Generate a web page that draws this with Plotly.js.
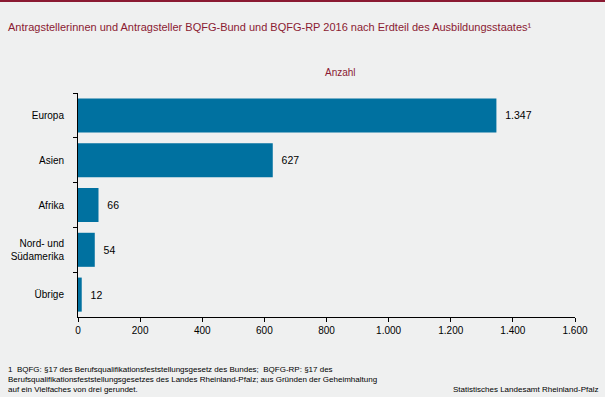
<!DOCTYPE html>
<html>
<head>
<meta charset="utf-8">
<script src="https://cdn.plot.ly/plotly-3.0.1.min.js"></script>
<style>
html,body{margin:0;padding:0;background:#eff0f0;}
#chart{width:605px;height:397px;}
</style>
</head>
<body>
<div id="chart"></div>
<script>
const categories = ["Europa", "Asien", "Afrika", "Nord- und<br>Südamerika", "Übrige"];
const values = [1347, 627, 66, 54, 12];
const xTicks = [0, 200, 400, 600, 800, 1000, 1200, 1400, 1600];

const titleText = "Antragstellerinnen und Antragsteller BQFG-Bund und BQFG-RP 2016 nach Erdteil des Ausbildungsstaates¹";
const unitText = "Anzahl";
const footLines = [
  "1  BQFG: §17 des Berufsqualifikationsfeststellungsgesetz des Bundes;  BQFG-RP: §17 des",
  "Berufsqualifikationsfeststellungsgesetzes des Landes Rheinland-Pfalz; aus Gründen der Geheimhaltung",
  "auf ein Vielfaches von drei gerundet."
];
const sourceText = "Statistisches Landesamt Rheinland-Pfalz";

const FONT = "Liberation Sans, Arial, sans-serif";
const RED = "#8b1a32";
const W = 605, H = 397;

// paper coordinates from pixel positions (margins are zero, paper = whole figure)
const px = x => x / W;
const py = y => 1 - y / H;

const trace = {
  type: "bar",
  orientation: "h",
  y: categories,
  x: values,
  marker: {color: "#0071a0"},
  width: 0.76,
  texttemplate: "  %{x:,}",
  textposition: "outside",
  cliponaxis: false,
  textfont: {family: FONT, size: 10.5, color: "#000"},
  hoverinfo: "none"
};

const annotations = [
  // dark red band along the top edge
  {text: " ", xref: "paper", yref: "paper", x: 0, y: 1,
   xanchor: "left", yanchor: "top", showarrow: false,
   width: W, height: 2, borderpad: 0, borderwidth: 0,
   bgcolor: RED, font: {size: 1, color: RED}},
  {text: titleText, xref: "paper", yref: "paper", x: px(6), y: py(27),
   xanchor: "left", yanchor: "middle", showarrow: false,
   font: {family: FONT, size: 11, color: RED}},
  {text: unitText, xref: "paper", yref: "paper", x: px(340), y: py(72),
   xanchor: "center", yanchor: "middle", showarrow: false,
   font: {family: FONT, size: 10, color: RED}},
  {text: sourceText, xref: "paper", yref: "paper", x: px(600), y: py(389),
   xanchor: "right", yanchor: "middle", align: "right", showarrow: false,
   font: {family: FONT, size: 8, color: "#000"}}
];
footLines.forEach((t, i) => {
  annotations.push({text: t, xref: "paper", yref: "paper", x: px(6), y: py(369 + i * 10.2),
    xanchor: "left", yanchor: "middle", align: "left", showarrow: false,
    font: {family: FONT, size: 8, color: "#000"}});
});

const layout = {
  width: W, height: H,
  paper_bgcolor: "#eff0f0",
  plot_bgcolor: "#eff0f0",
  separators: ",.",
  margin: {l: 0, r: 0, t: 0, b: 0, pad: 0},
  font: {family: FONT, size: 10, color: "#000"},
  showlegend: false,
  xaxis: {
    domain: [px(78), px(575)],
    range: [0, 1600],
    tickvals: xTicks,
    tickformat: ",",
    showgrid: false,
    zeroline: false,
    showline: true,
    linecolor: "#000",
    linewidth: 1,
    ticks: "outside",
    ticklen: 4,
    tickcolor: "#000",
    tickfont: {family: FONT, size: 10, color: "#000"},
    automargin: false,
    fixedrange: true
  },
  yaxis: {
    domain: [py(317), py(93)],
    type: "category",
    categoryorder: "array",
    categoryarray: categories,
    autorange: "reversed",
    showgrid: false,
    zeroline: false,
    showline: true,
    linecolor: "#000",
    linewidth: 1,
    ticks: "outside",
    tickson: "boundaries",
    ticklen: 4,
    tickcolor: "#000",
    ticklabelstandoff: 11,
    tickfont: {family: FONT, size: 10, color: "#000"},
    automargin: false,
    fixedrange: true
  },
  shapes: [
    {type: "rect", xref: "paper", yref: "paper", layer: "above",
     x0: 0, x1: 1, y0: py(2), y1: 1,
     fillcolor: RED, line: {width: 0}}
  ],
  annotations: annotations
};

Plotly.newPlot("chart", [trace], layout, {displayModeBar: false, staticPlot: true});
</script>
</body>
</html>
